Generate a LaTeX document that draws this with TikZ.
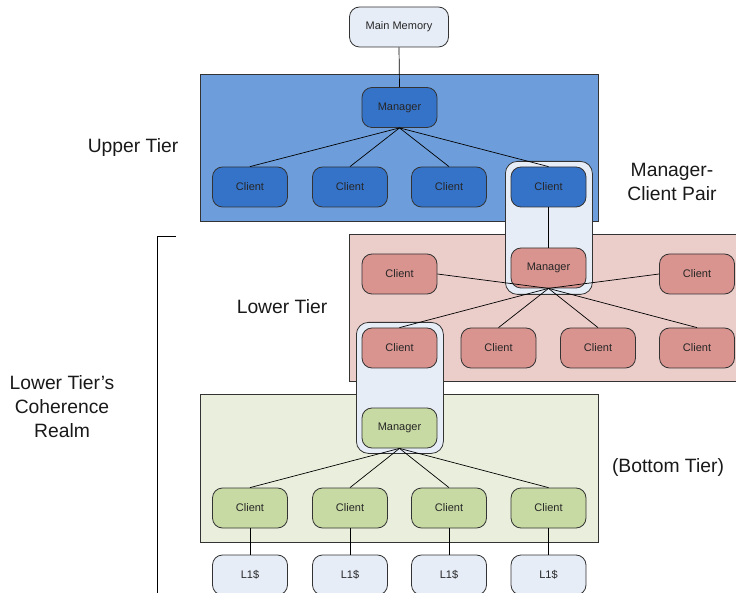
\documentclass[tikz,border=0pt]{standalone}
\usepackage{fontspec}
\setmainfont{Liberation Sans}
\definecolor{upbox}{HTML}{6D9EDB}
\definecolor{upnode}{HTML}{3573C9}
\definecolor{lowbox}{HTML}{EBCDCA}
\definecolor{lownode}{HTML}{D9948F}
\definecolor{botbox}{HTML}{EAEFDD}
\definecolor{botnode}{HTML}{C8DAA3}
\definecolor{pale}{HTML}{E7EDF7}
\definecolor{edge}{HTML}{333333}
\begin{document}
\begin{tikzpicture}[x=1pt,y=-1pt,
  box/.style={draw=edge,line width=0.8pt,rounded corners=10pt,minimum width=75pt,minimum height=40pt,inner sep=0pt,font=\fontsize{11}{13}\selectfont,text=black!85},
  upn/.style={box,fill=upnode},
  lown/.style={box,fill=lownode},
  botn/.style={box,fill=botnode},
  palen/.style={box,fill=pale},
  tier/.style={draw=edge,line width=0.8pt},
  pair/.style={draw=edge,line width=0.8pt,fill=pale,rounded corners=12pt},
  link/.style={draw=black,line width=0.7pt},
  lbl/.style={font=\fontsize{19.3}{24}\selectfont,align=center,text=black!90}]
\useasboundingbox (0,0) rectangle (736,593);
\clip (0,0) rectangle (736,593);
% tier boxes
\node[tier,fill=upbox,minimum width=398pt,minimum height=147pt,inner sep=0pt,anchor=north west] (upper) at (200,74) {};
\node[tier,fill=lowbox,minimum width=390pt,minimum height=147pt,inner sep=0pt,anchor=north west] (lower) at (349,234) {};
\node[tier,fill=botbox,minimum width=398pt,minimum height=148pt,inner sep=0pt,anchor=north west] (bottom) at (200,394) {};
% pair highlights
\node[pair,minimum width=87pt,minimum height=133pt,inner sep=0pt,anchor=north west] (pairA) at (505,161) {};
\node[pair,minimum width=87pt,minimum height=131pt,inner sep=0pt,anchor=north west] (pairB) at (356,322) {};
% nodes
\node[palen,minimum width=99pt] (mem) at (399,27) {Main Memory};
\node[upn] (um) at (399.5,107.5) {Manager};
\node[upn] (uc1) at (250,187) {Client};
\node[upn] (uc2) at (350,187) {Client};
\node[upn] (uc3) at (449,187) {Client};
\node[upn] (uc4) at (548.5,187) {Client};
\node[lown] (lm) at (548.5,268) {Manager};
\node[lown] (lc1) at (399.5,274) {Client};
\node[lown] (lc6) at (697,274) {Client};
\node[lown] (lc2) at (399.5,348) {Client};
\node[lown] (lc3) at (498.5,348) {Client};
\node[lown] (lc4) at (598,348) {Client};
\node[lown] (lc5) at (697,348) {Client};
\node[botn] (bm) at (399.5,428) {Manager};
\node[botn] (bc1) at (250,508) {Client};
\node[botn] (bc2) at (350,508) {Client};
\node[botn] (bc3) at (449,508) {Client};
\node[botn] (bc4) at (548.5,508) {Client};
\node[palen] (l1a) at (250,575) {L1\$};
\node[palen] (l1b) at (350,575) {L1\$};
\node[palen] (l1c) at (449,575) {L1\$};
\node[palen] (l1d) at (548.5,575) {L1\$};
% links
\path[link] (mem.south) -- (um.north);
\foreach \c in {uc1,uc2,uc3,uc4} \path[link] (um.south) -- (\c.north);
\path[link] (uc4.south) -- (lm.north);
\path[link] (lm.south) -- (lc1.east);
\path[link] (lm.south) -- (lc6.west);
\foreach \c in {lc2,lc3,lc4,lc5} \path[link] (lm.south) -- (\c.north);
\foreach \c in {bc1,bc2,bc3,bc4} \path[link] (bm.south) -- (\c.north);
\path[link] (bc1.south) -- (l1a.north);
\path[link] (bc2.south) -- (l1b.north);
\path[link] (bc3.south) -- (l1c.north);
\path[link] (bc4.south) -- (l1d.north);
% bracket
\coordinate (brt) at (176,236);
\coordinate (brc) at (157,236);
\coordinate (brb) at (157,600);
\draw[line width=0.8pt] (brt) -- (brc) -- (brb);
% labels
\node[lbl] (lup) at (133,148) {Upper Tier};
\node[lbl] (lpair) at (672,182) {Manager-\\Client Pair};
\node[lbl] (llow) at (282,307) {Lower Tier};
\node[lbl] (lrealm) at (62,407) {Lower Tier’s\\Coherence\\Realm};
\node[lbl] (lbot) at (668,468) {(Bottom Tier)};
\end{tikzpicture}
\end{document}
